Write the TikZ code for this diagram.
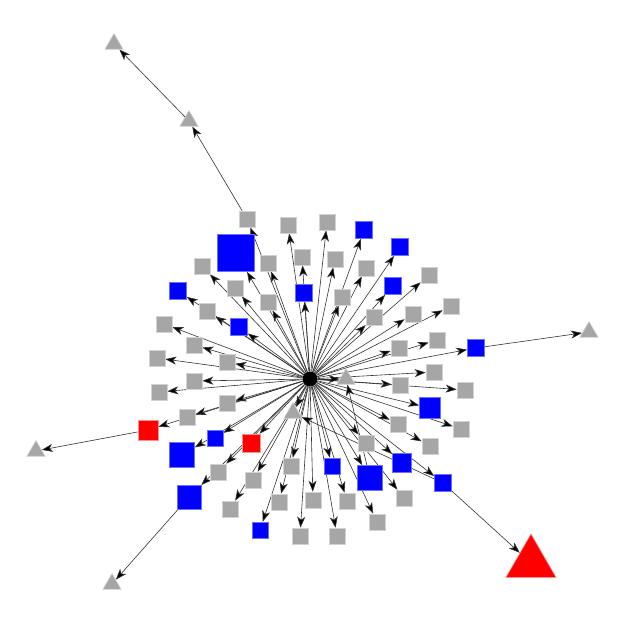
\documentclass[tikz,border=0pt]{standalone}
\usetikzlibrary{shapes.geometric,arrows.meta,backgrounds}
\definecolor{gfill}{HTML}{A6A6A6}
\definecolor{gline}{HTML}{D2D2D2}
\definecolor{bfill}{HTML}{0000FF}
\definecolor{bline}{HTML}{6F6FFF}
\definecolor{rfill}{HTML}{FF0000}
\definecolor{rline}{HTML}{FF9090}
\begin{document}
\begin{tikzpicture}[x=1pt,y=-1pt,
  gsq/.style={rectangle,inner sep=0pt,minimum size=#1,fill=gfill,draw=gline,line width=0.6pt},
  gsq/.default=16pt,
  bsq/.style={rectangle,inner sep=0pt,minimum size=#1,fill=bfill,draw=bline,line width=0.6pt},
  bsq/.default=17pt,
  rsq/.style={rectangle,inner sep=0pt,minimum size=#1,fill=rfill,draw=rline,line width=0.6pt},
  rsq/.default=19pt,
  gtri/.style={regular polygon,regular polygon sides=3,inner sep=0pt,minimum size=#1,fill=gfill,draw=gline,line width=0.6pt},
  gtri/.default=21pt,
  rtri/.style={regular polygon,regular polygon sides=3,inner sep=0pt,minimum size=#1,fill=rfill,draw=rline,line width=0.6pt},
  hub/.style={circle,inner sep=0pt,minimum size=15pt,fill=black},
  edge/.style={draw=black!80,line width=0.6pt,-{Stealth[length=11pt,width=8pt,inset=3pt]},arrows={[fill=black]}}
]
\useasboundingbox (0,0) rectangle (625,625);
\node[hub] (c) at (310,379) {};
% gray squares
\foreach \nm/\x/\y in {g1/247/219, g2/288/225, g3/327/222, g7/202/266, g8/268/263,
  g9/302/257, g10/335/259, g11/366/268, g13/429/275, g15/235/288, g16/268/302,
  g18/342/297, g19/374/317, g20/413/314, g21/451/306, g22/164/324, g23/207/311,
  g25/194/345, g26/437/340, g27/399/348, g29/157/358, g30/227/362, g31/194/381,
  g32/159/392, g33/434/372, g34/400/385, g35/465/390, g37/227/403, g38/187/417,
  g40/398/424, g41/461/429, g42/430/446, g47/366/443, g49/291/466, g54/218/472,
  g55/253/480, g56/404/498, g58/230/509, g59/279/502, g60/313/500, g61/347/501,
  g62/377/522, g64/300/536, g65/337/536}
  \node[gsq] (\nm) at (\x,\y) {};
% blue squares
\foreach \nm/\x/\y/\s in {b4/364/230/17pt, b5/400/247/17pt, b12/393/286/17pt,
  b14/178/291/17pt, b17/304/293/17pt, b24/239/327/17pt, b28/476/348/17pt,
  b39/430/408/21pt, b44/215/438/16pt, b48/182/455/25pt, b50/332/466/16pt,
  b51/370/478/25pt, b52/402/463/19pt, b53/443/483/17pt, b57/189/497/24pt,
  b63/260/530/16pt, b6/236/253/37pt}
  \node[bsq=\s] (\nm) at (\x,\y) {};
% red squares
\node[rsq=20pt] (r43) at (148,430) {};
\node[rsq=18pt] (r45) at (251,443) {};
% triangles
\node[gtri] (t1) at (189,121) {};
\node[gtri] (t2) at (114,44) {};
\node[gtri] (tl) at (36,451) {};
\node[gtri] (tbl) at (112,584) {};
\node[gtri] (tr) at (589,332) {};
\node[gtri] (tc1) at (346,379) {};
\node[gtri] (tc2) at (293,413) {};
\node[rtri=58pt] (tred) at (531,563) {};
\begin{pgfonlayer}{background}
\foreach \t in {g1,g2,g3,g7,g8,g9,g10,g11,g13,g15,g16,g18,g19,g20,g21,g22,g23,
  g25,g26,g27,g29,g30,g31,g32,g33,g34,g35,g37,g38,g40,g41,g42,g47,g49,g54,g55,
  g56,g58,g59,g60,g61,g62,g64,g65,b4,b5,b12,b14,b17,b24,b28,b39,b44,b48,b50,
  b51,b52,b53,b57,b63,b6,r43,r45,tc1,tc2}
  \draw[edge] (c) -- (\t);
\draw[edge] (g1) -- (t1);
\draw[edge] (t1) -- (t2);
\draw[edge] (r43) -- (tl);
\draw[edge] (b57) -- (tbl);
\draw[edge] (b28) -- (tr);
\draw[edge] (b53) -- (tred);
\draw[edge] (b51) -- (tc1);
\draw[edge] (b53) -- (tc2);
\end{pgfonlayer}
\end{tikzpicture}
\end{document}
